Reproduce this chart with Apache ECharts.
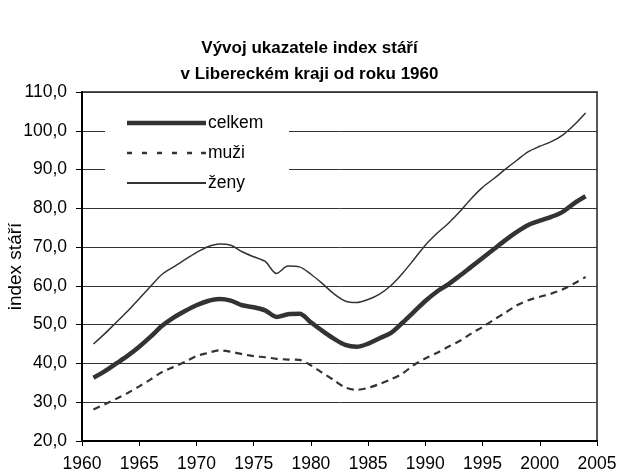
<!DOCTYPE html>
<html>
<head>
<meta charset="utf-8">
<script src="https://cdn.jsdelivr.net/npm/echarts@6/dist/echarts.min.js"></script>
<style>html,body{margin:0;padding:0;background:#fff}#c{width:619px;height:475px}</style>
</head>
<body>
<div id="c"></div>
<script>
var titleText = 'Vývoj ukazatele index stáří\nv Libereckém kraji od roku 1960';
var yAxisName = 'index stáří';
var seriesNames = ['celkem', 'muži', 'ženy'];
var years = [1961,1962,1963,1964,1965,1966,1967,1968,1969,1970,
             1971,1972,1973,1974,1975,1976,1977,1978,1979,1980,
             1981,1982,1983,1984,1985,1986,1987,1988,1989,1990,
             1991,1992,1993,1994,1995,1996,1997,1998,1999,2000,
             2001,2002,2003,2004];
var celkem = [36.3,38.0,40.0,42.0,44.3,46.9,49.7,51.8,53.5,55.0,
              56.1,56.6,56.2,55.0,54.5,53.7,52.0,52.7,52.8,50.6,
              48.4,46.4,44.8,44.3,45.1,46.5,47.9,50.5,53.3,56.1,
              58.5,60.4,62.6,64.9,67.2,69.5,71.8,73.9,75.7,76.8,
              77.8,79.1,81.3,83.1];
var muzi = [28.1,29.5,30.9,32.4,34.1,35.9,37.8,39.1,40.4,41.9,
            42.7,43.4,43.0,42.4,41.9,41.6,41.2,41.0,40.9,39.5,
            37.6,35.7,33.8,33.2,33.7,34.7,35.9,37.4,39.6,41.3,
            42.7,44.3,45.8,47.7,49.4,51.3,53.1,55.0,56.3,57.2,
            58.0,59.1,60.6,62.3];
var zeny = [45.0,47.7,50.6,53.5,56.7,59.9,63.0,64.9,66.8,68.6,
            70.1,70.8,70.5,68.8,67.5,66.3,63.2,65.1,64.9,63.0,
            60.6,58.0,56.1,55.7,56.5,57.9,60.1,63.2,66.8,70.5,
            73.5,76.1,79.1,82.5,85.4,87.7,90.1,92.4,94.6,96.0,
            97.2,98.9,101.5,104.6];

function pairs(vals){ return years.map(function(y,i){ return [y, vals[i]]; }); }

var FONT = '"Liberation Sans", Arial, sans-serif';
var LINE = '#333';
var legendText = {fontFamily: FONT, fontSize: 17.5, color: '#000', padding: [0,0,0,-3]};
function mkLegend(name, top, icon, h) {
  return {
    orient: 'vertical', left: 127, top: top, padding: 0,
    itemWidth: 79, itemHeight: h, icon: icon, z: 5,
    itemStyle: {color: LINE, borderWidth: 0},
    textStyle: legendText,
    data: [name]
  };
}
var dashIcon = 'path://M0,0h5v2.5h-5z M15,0h5v2.5h-5z M30,0h5v2.5h-5z M45,0h5v2.5h-5z M60,0h5v2.5h-5z M74,0h5v2.5h-5z';

var chart = echarts.init(document.getElementById('c'), null, {renderer:'canvas'});
chart.setOption({
  animation: false,
  backgroundColor: '#fff',
  title: {
    text: titleText,
    left: 'center',
    top: 30,
    textStyle: {fontFamily: FONT, fontSize: 17, fontWeight: 'bold', color: '#000', lineHeight: 26}
  },
  graphic: {
    elements: [{type: 'rect', z: 3, silent: true,
      shape: {x: 105, y: 104, width: 184, height: 97}, style: {fill: '#fff'}}]
  },
  legend: [
    mkLegend(seriesNames[0], 114, 'rect', 4.5),
    mkLegend(seriesNames[1], 144, dashIcon, 2.5),
    mkLegend(seriesNames[2], 174, 'rect', 2)
  ],
  grid: {
    left: 82, right: 22, top: 92, bottom: 34,
    containLabel: false, outerBoundsMode: 'none',
    show: true, borderColor: '#555', borderWidth: 2, backgroundColor: 'transparent'
  },
  xAxis: {
    type: 'value', min: 1960, max: 2005, interval: 5,
    axisLine: {show: true, lineStyle: {color: '#000', width: 2}},
    axisTick: {show: true, inside: false, length: 5, lineStyle: {color: '#000'}},
    splitLine: {show: false},
    axisLabel: {fontFamily: FONT, fontSize: 17.5, color: '#000', margin: 14,
                hideOverlap: false, showMinLabel: true, showMaxLabel: true,
                formatter: function(v){ return String(v); }}
  },
  yAxis: {
    type: 'value', min: 20, max: 110, interval: 10,
    name: yAxisName, nameLocation: 'middle', nameGap: 57, nameRotate: 90,
    nameMoveOverlap: false,
    nameTextStyle: {fontFamily: FONT, fontSize: 19, color: '#000'},
    axisLine: {show: true, lineStyle: {color: '#000', width: 2}},
    axisTick: {show: true, inside: false, length: 6, lineStyle: {color: '#000'}},
    splitLine: {show: true, lineStyle: {color: '#333', width: 1}},
    axisLabel: {fontFamily: FONT, fontSize: 17.5, color: '#000', margin: 15,
                formatter: function(v){ return v.toFixed(1).replace('.', ','); }}
  },
  series: [
    {name: seriesNames[0], type: 'line', data: pairs(celkem), symbol: 'none', smooth: 0.3,
     lineStyle: {color: LINE, width: 4.5}, itemStyle: {color: LINE}, z: 2},
    {name: seriesNames[1], type: 'line', data: pairs(muzi), symbol: 'none', smooth: 0.3,
     lineStyle: {color: LINE, width: 2.2, type: [7, 5]}, itemStyle: {color: LINE}, z: 2},
    {name: seriesNames[2], type: 'line', data: pairs(zeny), symbol: 'none', smooth: 0.3,
     lineStyle: {color: LINE, width: 1.5}, itemStyle: {color: LINE}, z: 2}
  ]
});
</script>
</body>
</html>
